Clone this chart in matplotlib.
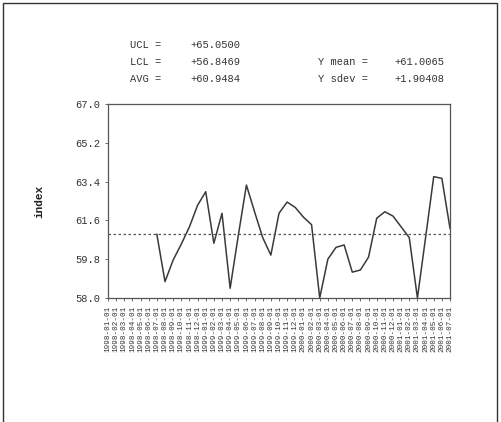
import numpy as np
import matplotlib.pyplot as plt
from matplotlib.patches import Rectangle

# control chart values
periods = ["%d-%02d-01" % (1998 + m // 12, m % 12 + 1) for m in range(43)]
first_idx = 6
index_vals = [60.95, 58.76, 59.76, 60.5, 61.3, 62.3, 62.93, 60.54, 61.93, 58.45,
              60.9, 63.24, 62.0, 60.8, 59.99, 61.93, 62.45, 62.2, 61.75, 61.4,
              58.0, 59.8, 60.35, 60.46, 59.2, 59.3, 59.9, 61.7, 62.0, 61.8,
              61.3, 60.8, 58.0, 60.8, 63.63, 63.55, 61.23]
avg = 60.9484
ucl = 65.0500
lcl = 56.8469
y_mean = 61.0065
y_sdev = 1.90408
yticks = [58.0, 59.8, 61.6, 63.4, 65.2, 67.0]

font = ['Liberation Mono', 'DejaVu Sans Mono']
plt.rcParams['font.family'] = font

fig = plt.figure(figsize=(5.01, 4.22), dpi=100)
fig.patches.append(Rectangle((3 / 501, -0.1), 494 / 501, 1.1 - 3 / 422,
                             transform=fig.transFigure, fill=False,
                             edgecolor='#333333', lw=1))
ax = fig.add_axes([108 / 501, 1 - 298 / 422, 342 / 501, 194 / 422])

x = np.arange(first_idx, first_idx + len(index_vals))
ax.plot(x, index_vals, color='#3a3a3a', lw=1.1)
ax.axhline(avg, color='#555555', lw=0.9, ls=(0, (2, 2)))

ax.set_xlim(0, len(periods) - 1)
ax.set_ylim(58.0, 67.0)
ax.set_yticks(yticks)
ax.set_yticklabels(["%.1f" % v for v in yticks], fontsize=7.5, color='#333333')
ax.set_xticks(range(len(periods)))
ax.set_xticklabels(periods, rotation=90, fontsize=5.5, color='#333333')
ax.tick_params(length=2, width=0.6, color='#555555')
for s in ax.spines.values():
    s.set_color('#555555')
    s.set_linewidth(0.9)
ax.set_ylabel("index", fontsize=8, color='#222222', labelpad=22,
              fontweight='bold')

tk = dict(fontsize=7.5, color='#333333', transform=fig.transFigure, va='center')
fig.text(130 / 501, 1 - 45 / 422, "UCL =", **tk)
fig.text(190 / 501, 1 - 45 / 422, "%+.4f" % ucl, **tk)
fig.text(130 / 501, 1 - 62 / 422, "LCL =", **tk)
fig.text(190 / 501, 1 - 62 / 422, "%+.4f" % lcl, **tk)
fig.text(130 / 501, 1 - 79 / 422, "AVG =", **tk)
fig.text(190 / 501, 1 - 79 / 422, "%+.4f" % avg, **tk)
fig.text(318 / 501, 1 - 62 / 422, "Y mean =", **tk)
fig.text(444 / 501, 1 - 62 / 422, "%+.4f" % y_mean, ha='right', **tk)
fig.text(318 / 501, 1 - 79 / 422, "Y sdev =", **tk)
fig.text(444 / 501, 1 - 79 / 422, "%+.5f" % y_sdev, ha='right', **tk)

fig.savefig("out.png", dpi=100)
